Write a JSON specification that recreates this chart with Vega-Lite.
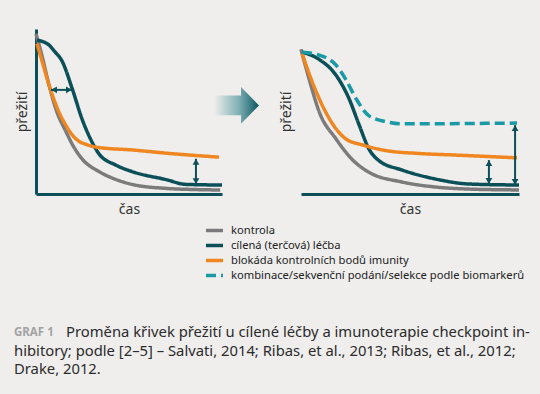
{
  "$schema": "https://vega.github.io/schema/vega-lite/v6.json",
  "background": "#efeeed",
  "padding": {"left": 14, "top": 26, "right": 14, "bottom": 18},
  "config": {
    "view": {"stroke": null},
    "font": "Noto Sans",
    "axis": {"domainColor": "#0b4f58", "domainWidth": 3, "ticks": false, "labels": false, "grid": false, "titleFont": "Noto Sans", "titleFontSize": 14, "titleFontWeight": "normal", "titleColor": "#333333"}
  },
  "datasets": {
    "curves": [
      {"panel": "A", "series": "kontrola", "t": 0, "s": 1.0},
      {"panel": "A", "series": "kontrola", "t": 0.35, "s": 0.85},
      {"panel": "A", "series": "kontrola", "t": 0.7, "s": 0.68},
      {"panel": "A", "series": "kontrola", "t": 1.1, "s": 0.52},
      {"panel": "A", "series": "kontrola", "t": 1.61, "s": 0.39},
      {"panel": "A", "series": "kontrola", "t": 2.0, "s": 0.3},
      {"panel": "A", "series": "kontrola", "t": 2.47, "s": 0.22},
      {"panel": "A", "series": "kontrola", "t": 3.39, "s": 0.14},
      {"panel": "A", "series": "kontrola", "t": 4.2, "s": 0.095},
      {"panel": "A", "series": "kontrola", "t": 5.16, "s": 0.06},
      {"panel": "A", "series": "kontrola", "t": 6.99, "s": 0.035},
      {"panel": "A", "series": "kontrola", "t": 8.5, "s": 0.028},
      {"panel": "A", "series": "kontrola", "t": 9.9, "s": 0.025},
      {"panel": "A", "series": "cílená (terčová) léčba", "t": 0.05, "s": 0.96},
      {"panel": "A", "series": "cílená (terčová) léčba", "t": 0.4, "s": 0.95},
      {"panel": "A", "series": "cílená (terčová) léčba", "t": 0.7, "s": 0.93},
      {"panel": "A", "series": "cílená (terčová) léčba", "t": 1.0, "s": 0.89},
      {"panel": "A", "series": "cílená (terčová) léčba", "t": 1.4, "s": 0.83},
      {"panel": "A", "series": "cílená (terčová) léčba", "t": 1.94, "s": 0.66},
      {"panel": "A", "series": "cílená (terčová) léčba", "t": 2.47, "s": 0.47},
      {"panel": "A", "series": "cílená (terčová) léčba", "t": 3.01, "s": 0.325},
      {"panel": "A", "series": "cílená (terčová) léčba", "t": 3.39, "s": 0.25},
      {"panel": "A", "series": "cílená (terčová) léčba", "t": 4.3, "s": 0.18},
      {"panel": "A", "series": "cílená (terčová) léčba", "t": 5.16, "s": 0.14},
      {"panel": "A", "series": "cílená (terčová) léčba", "t": 6.99, "s": 0.09},
      {"panel": "A", "series": "cílená (terčová) léčba", "t": 8.06, "s": 0.06},
      {"panel": "A", "series": "cílená (terčová) léčba", "t": 10, "s": 0.056},
      {"panel": "A", "series": "blokáda kontrolních bodů imunity", "t": 0.05, "s": 0.94},
      {"panel": "A", "series": "blokáda kontrolních bodů imunity", "t": 0.35, "s": 0.82},
      {"panel": "A", "series": "blokáda kontrolních bodů imunity", "t": 0.7, "s": 0.68},
      {"panel": "A", "series": "blokáda kontrolních bodů imunity", "t": 1.24, "s": 0.51},
      {"panel": "A", "series": "blokáda kontrolních bodů imunity", "t": 1.6, "s": 0.43},
      {"panel": "A", "series": "blokáda kontrolních bodů imunity", "t": 1.94, "s": 0.37},
      {"panel": "A", "series": "blokáda kontrolních bodů imunity", "t": 2.3, "s": 0.33},
      {"panel": "A", "series": "blokáda kontrolních bodů imunity", "t": 2.69, "s": 0.31},
      {"panel": "A", "series": "blokáda kontrolních bodů imunity", "t": 3.39, "s": 0.29},
      {"panel": "A", "series": "blokáda kontrolních bodů imunity", "t": 5.16, "s": 0.275},
      {"panel": "A", "series": "blokáda kontrolních bodů imunity", "t": 6.99, "s": 0.255},
      {"panel": "A", "series": "blokáda kontrolních bodů imunity", "t": 9.84, "s": 0.23},
      {"panel": "B", "series": "kontrola", "t": 0, "s": 1.0},
      {"panel": "B", "series": "kontrola", "t": 0.4, "s": 0.78},
      {"panel": "B", "series": "kontrola", "t": 0.83, "s": 0.57},
      {"panel": "B", "series": "kontrola", "t": 1.61, "s": 0.38},
      {"panel": "B", "series": "kontrola", "t": 2.34, "s": 0.24},
      {"panel": "B", "series": "kontrola", "t": 3.12, "s": 0.15},
      {"panel": "B", "series": "kontrola", "t": 4.63, "s": 0.083},
      {"panel": "B", "series": "kontrola", "t": 6.19, "s": 0.048},
      {"panel": "B", "series": "kontrola", "t": 7.71, "s": 0.034},
      {"panel": "B", "series": "kontrola", "t": 10, "s": 0.028},
      {"panel": "B", "series": "cílená (terčová) léčba", "t": 0.05, "s": 0.98},
      {"panel": "B", "series": "cílená (terčová) léčba", "t": 0.83, "s": 0.93},
      {"panel": "B", "series": "cílená (terčová) léčba", "t": 1.61, "s": 0.82},
      {"panel": "B", "series": "cílená (terčová) léčba", "t": 2.2, "s": 0.66},
      {"panel": "B", "series": "cílená (terčová) léčba", "t": 2.66, "s": 0.48},
      {"panel": "B", "series": "cílená (terčová) léčba", "t": 3.12, "s": 0.31},
      {"panel": "B", "series": "cílená (terčová) léčba", "t": 3.58, "s": 0.23},
      {"panel": "B", "series": "cílená (terčová) léčba", "t": 4.63, "s": 0.166},
      {"panel": "B", "series": "cílená (terčová) léčba", "t": 6.19, "s": 0.103},
      {"panel": "B", "series": "cílená (terčová) léčba", "t": 7.71, "s": 0.069},
      {"panel": "B", "series": "cílená (terčová) léčba", "t": 10, "s": 0.062},
      {"panel": "B", "series": "blokáda kontrolních bodů imunity", "t": 0.05, "s": 0.97},
      {"panel": "B", "series": "blokáda kontrolních bodů imunity", "t": 0.4, "s": 0.82},
      {"panel": "B", "series": "blokáda kontrolních bodů imunity", "t": 0.83, "s": 0.66},
      {"panel": "B", "series": "blokáda kontrolních bodů imunity", "t": 1.61, "s": 0.45},
      {"panel": "B", "series": "blokáda kontrolních bodů imunity", "t": 2.06, "s": 0.38},
      {"panel": "B", "series": "blokáda kontrolních bodů imunity", "t": 2.8, "s": 0.34},
      {"panel": "B", "series": "blokáda kontrolních bodů imunity", "t": 3.9, "s": 0.3},
      {"panel": "B", "series": "blokáda kontrolních bodů imunity", "t": 5.41, "s": 0.28},
      {"panel": "B", "series": "blokáda kontrolních bodů imunity", "t": 6.93, "s": 0.27},
      {"panel": "B", "series": "blokáda kontrolních bodů imunity", "t": 9.91, "s": 0.25},
      {"panel": "B", "series": "kombinace/sekvenční podání/selekce podle biomarkerů", "t": 0.05, "s": 0.98},
      {"panel": "B", "series": "kombinace/sekvenční podání/selekce podle biomarkerů", "t": 0.83, "s": 0.96},
      {"panel": "B", "series": "kombinace/sekvenční podání/selekce podle biomarkerů", "t": 1.61, "s": 0.89},
      {"panel": "B", "series": "kombinace/sekvenční podání/selekce podle biomarkerů", "t": 2.06, "s": 0.79},
      {"panel": "B", "series": "kombinace/sekvenční podání/selekce podle biomarkerů", "t": 2.52, "s": 0.66},
      {"panel": "B", "series": "kombinace/sekvenční podání/selekce podle biomarkerů", "t": 3.12, "s": 0.54},
      {"panel": "B", "series": "kombinace/sekvenční podání/selekce podle biomarkerů", "t": 3.9, "s": 0.5},
      {"panel": "B", "series": "kombinace/sekvenční podání/selekce podle biomarkerů", "t": 4.63, "s": 0.485},
      {"panel": "B", "series": "kombinace/sekvenční podání/selekce podle biomarkerů", "t": 9.91, "s": 0.49}
    ],
    "arrows": [
      {"panel": "A", "t": 0.8, "t2": 1.94, "s": 0.65, "s2": 0.65},
      {"panel": "A", "t": 8.6, "t2": 8.6, "s": 0.06, "s2": 0.22},
      {"panel": "B", "t": 8.62, "t2": 8.62, "s": 0.069, "s2": 0.234},
      {"panel": "B", "t": 9.82, "t2": 9.82, "s": 0.062, "s2": 0.476}
    ],
    "heads": [
      {"panel": "A", "t": 0.97, "s": 0.65, "dir": "left"},
      {"panel": "A", "t": 1.77, "s": 0.65, "dir": "right"},
      {"panel": "A", "t": 8.6, "s": 0.2, "dir": "up"},
      {"panel": "A", "t": 8.6, "s": 0.08, "dir": "down"},
      {"panel": "B", "t": 8.62, "s": 0.213, "dir": "up"},
      {"panel": "B", "t": 8.62, "s": 0.09, "dir": "down"},
      {"panel": "B", "t": 9.82, "s": 0.455, "dir": "up"},
      {"panel": "B", "t": 9.82, "s": 0.083, "dir": "down"}
    ],
    "transition": [
      {"t": 10.78, "s": 0.553}
    ],
    "caption": [
      {"kind": "label", "line": 1, "text": "GRAF 1"},
      {"kind": "first", "line": 1, "text": "Proměna křivek přežití u cílené léčby a imunoterapie checkpoint in-"},
      {"kind": "body", "line": 2, "text": "hibitory; podle [2–5] – Salvati, 2014; Ribas, et al., 2013; Ribas, et al., 2012;"},
      {"kind": "body", "line": 3, "text": "Drake, 2012."}
    ]
  },
  "spacing": 108,
  "vconcat": [
    {
      "bounds": "flush",
      "spacing": 79,
      "hconcat": [
        {
          "width": 186,
          "height": 165,
          "encoding": {
            "x": {"field": "t", "type": "quantitative", "scale": {"domain": [0, 10], "nice": false, "zero": false}, "axis": {"title": "čas", "titlePadding": 8}},
            "y": {"field": "s", "type": "quantitative", "scale": {"domain": [0, 1.03], "nice": false, "zero": false}, "axis": {"title": "přežití", "titlePadding": 7}}
          },
          "layer": [
            {
              "data": {"name": "curves"},
              "transform": [{"filter": "datum.panel == 'A'"}],
              "mark": {"type": "line", "strokeWidth": 3.5, "interpolate": "monotone"},
              "encoding": {
                "color": {"field": "series", "type": "nominal", "scale": {"domain": ["kontrola", "cílená (terčová) léčba", "blokáda kontrolních bodů imunity", "kombinace/sekvenční podání/selekce podle biomarkerů"], "range": ["#7b7b7b", "#0b4f58", "#f0861f", "#1a9aa6"]}, "legend": {"title": null, "orient": "none", "legendX": 168, "legendY": 195, "symbolType": "stroke", "symbolSize": 289, "symbolStrokeWidth": 3.5, "labelFont": "Noto Sans", "labelFontSize": 11.2, "labelColor": "#222222", "labelOffset": 6, "labelLimit": 500, "rowPadding": 2, "clipHeight": 13}},
                "strokeDash": {"field": "series", "type": "nominal", "scale": {"domain": ["kontrola", "cílená (terčová) léčba", "blokáda kontrolních bodů imunity", "kombinace/sekvenční podání/selekce podle biomarkerů"], "range": [[1, 0], [1, 0], [1, 0], [10, 5]]}, "legend": {"title": null, "orient": "none", "legendX": 168, "legendY": 195, "symbolType": "stroke", "symbolSize": 289, "symbolStrokeWidth": 3.5, "labelFont": "Noto Sans", "labelFontSize": 11.2, "labelColor": "#222222", "labelOffset": 6, "labelLimit": 500, "rowPadding": 2, "clipHeight": 13}}
              }
            },
            {
              "data": {"name": "arrows"},
              "transform": [{"filter": "datum.panel == 'A'"}],
              "mark": {"type": "rule", "color": "#0b4f58", "strokeWidth": 2},
              "encoding": {"x2": {"field": "t2"}, "y2": {"field": "s2"}}
            },
            {
              "data": {"name": "heads"},
              "transform": [{"filter": "datum.panel == 'A'"}],
              "mark": {"type": "point", "filled": true, "color": "#0b4f58", "opacity": 1, "size": 45},
              "encoding": {"shape": {"field": "dir", "type": "nominal", "scale": {"domain": ["up", "down", "left", "right"], "range": ["triangle-up", "triangle-down", "triangle-left", "triangle-right"]}, "legend": null}}
            },
            {
              "data": {"name": "transition"},
              "mark": {"type": "point", "filled": true, "opacity": 1, "size": 2025, "shape": "M-1,-0.44 L0.2,-0.44 L0.2,-0.82 L1,0 L0.2,0.82 L0.2,0.44 L-1,0.44 Z", "fill": {"gradient": "linear", "x1": 0, "y1": 0, "x2": 1, "y2": 0, "stops": [{"offset": 0, "color": "#efeeed"}, {"offset": 0.55, "color": "#7fb0b4"}, {"offset": 1, "color": "#0b5660"}]}}
            }
          ]
        },
        {
          "width": 218,
          "height": 165,
          "encoding": {
            "x": {"field": "t", "type": "quantitative", "scale": {"domain": [0, 10], "nice": false, "zero": false}, "axis": {"title": "čas", "titlePadding": 8}},
            "y": {"field": "s", "type": "quantitative", "scale": {"domain": [0, 1.14], "nice": false, "zero": false}, "axis": {"title": "přežití", "titlePadding": 8, "domain": false}}
          },
          "layer": [
            {
              "mark": {"type": "rule", "color": "#0b4f58", "strokeWidth": 3},
              "encoding": {"x": {"datum": 0}, "y": {"datum": 0}, "y2": {"datum": 1.05}}
            },
            {
              "data": {"name": "curves"},
              "transform": [{"filter": "datum.panel == 'B'"}],
              "mark": {"type": "line", "strokeWidth": 3.5, "interpolate": "monotone"},
              "encoding": {
                "color": {"field": "series", "type": "nominal"},
                "strokeDash": {"field": "series", "type": "nominal"}
              }
            },
            {
              "data": {"name": "arrows"},
              "transform": [{"filter": "datum.panel == 'B'"}],
              "mark": {"type": "rule", "color": "#0b4f58", "strokeWidth": 2},
              "encoding": {"x2": {"field": "t2"}, "y2": {"field": "s2"}}
            },
            {
              "data": {"name": "heads"},
              "transform": [{"filter": "datum.panel == 'B'"}],
              "mark": {"type": "point", "filled": true, "color": "#0b4f58", "opacity": 1, "size": 45},
              "encoding": {"shape": {"field": "dir", "type": "nominal", "scale": {"domain": ["up", "down", "left", "right"], "range": ["triangle-up", "triangle-down", "triangle-left", "triangle-right"]}, "legend": null}}
            }
          ]
        }
      ]
    },
    {
      "width": 500,
      "height": 55,
      "data": {"name": "caption"},
      "encoding": {
        "x": {"value": 0},
        "y": {"field": "line", "type": "ordinal", "axis": null, "scale": {"domain": [1, 2, 3]}},
        "text": {"field": "text"}
      },
      "layer": [
        {
          "transform": [{"filter": "datum.kind == 'label'"}],
          "mark": {"type": "text", "align": "left", "baseline": "middle", "dx": -22, "font": "Noto Sans", "fontSize": 11.5, "fontWeight": "bold", "color": "#a3a3a3"}
        },
        {
          "transform": [{"filter": "datum.kind == 'first'"}],
          "mark": {"type": "text", "align": "left", "baseline": "middle", "dx": 30, "font": "Noto Sans", "fontSize": 14.8, "color": "#2b2b2b"}
        },
        {
          "transform": [{"filter": "datum.kind == 'body'"}],
          "mark": {"type": "text", "align": "left", "baseline": "middle", "dx": -22, "font": "Noto Sans", "fontSize": 14.8, "color": "#2b2b2b"}
        }
      ]
    }
  ]
}
